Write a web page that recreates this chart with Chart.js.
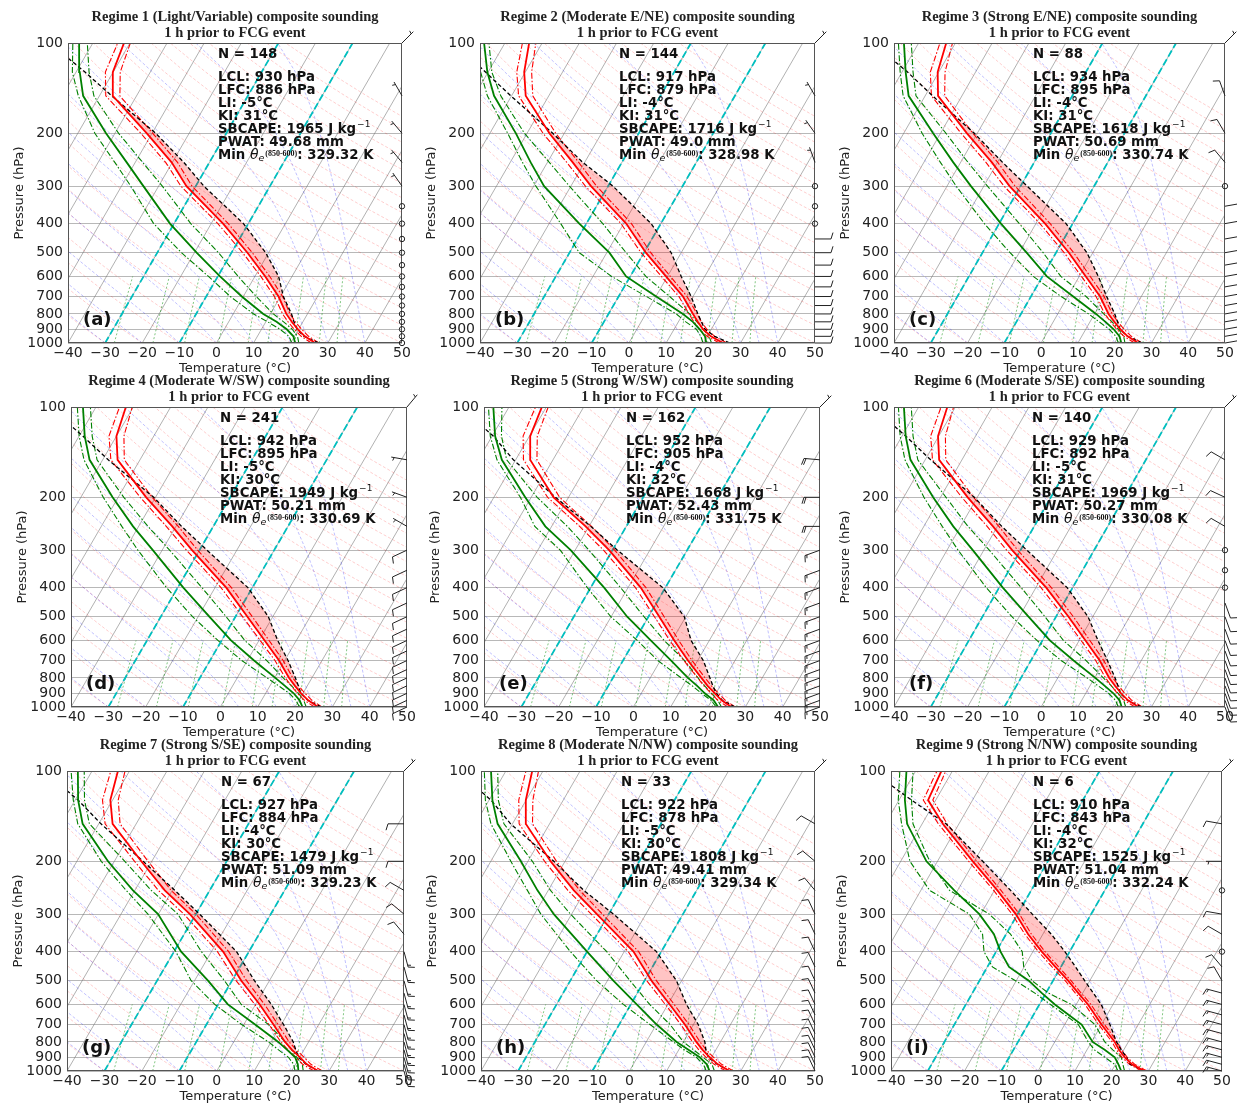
<!DOCTYPE html>
<html lang="en">
<head>
<meta charset="UTF-8"/>
<title>Composite soundings 1 h prior to FCG events</title>
<script src="https://cdn.jsdelivr.net/npm/chart.js@4.4.1/dist/chart.umd.min.js"></script>
<style>
  html, body { margin: 0; padding: 0; background: #fff; overflow: hidden; }
  #page { position: relative; width: 1237px; height: 1105px; overflow: hidden; background: #fff; }
  #page canvas { position: absolute; }
</style>
</head>
<body>
<div id="page"></div>
<script>
// pressure levels (hPa) the composite profiles are read at
const levels = [1000, 950, 900, 850, 800, 700, 600, 500, 400, 300, 250, 200, 150, 125, 100];
const levelsI = [1000, 950, 900, 850, 800, 700, 600, 550, 500, 450, 400, 350, 300, 250, 200, 150, 125, 100];

// Regime 1
const tempA   = [26.6, 22.8, 19.8, 17.0, 14.3, 9.5, 2.8, -5.7, -16.8, -32.5, -40.2, -51.4, -66.4, -70.1, -71.6];
const tempSdA = [1.0, 1.0, 1.0, 1.0, 1.0, 1.1, 1.2, 1.3, 1.4, 1.5, 1.6, 1.6, 1.9, 2.0, 1.7];
const dewA    = [21.2, 19.7, 16.8, 12.9, 8.1, -0.4, -9.4, -19.4, -31.1, -44.1, -52.3, -62.4, -74.4, -79.0, -83.7];
const dewLoA  = [20.3, 18.5, 15.0, 10.5, 5.5, -3.5, -12.5, -23.5, -35.5, -47.5, -55.5, -65.4, -75.7, -81.0, -85.4];
const dewHiA  = [22.2, 20.8, 18.3, 14.8, 10.8, 3.5, -4.5, -13.5, -25.5, -39.0, -48.0, -59.0, -71.5, -76.5, -81.5];
const parcelA = [27.6, 22.5, 19.6, 17.6, 15.7, 10.8, 6.4, -0.8, -11.3, -27.8, -36.9, -49.0, -66.7, -77.6, -91.6];

// Regime 2
const tempB   = [25.3, 21.0, 17.8, 15.2, 12.7, 7.3, -0.4, -9.5, -19.3, -34.6, -43.2, -54.0, -66.2, -70.3, -73.5];
const tempSdB = [1.0, 1.0, 1.0, 1.0, 1.1, 1.1, 1.2, 1.3, 1.4, 1.5, 1.6, 1.7, 1.9, 2.0, 1.8];
const dewB    = [20.8, 19.4, 16.9, 13.9, 10.0, 0.1, -11.1, -19.3, -31.9, -47.2, -54.5, -63.0, -74.7, -80.2, -85.6];
const dewLoB  = [19.9, 18.3, 16.0, 12.0, 8.2, -2.5, -15.0, -27.4, -36.9, -49.4, -56.7, -65.2, -76.5, -82.0, -87.0];
const dewHiB  = [22.2, 20.5, 17.8, 15.0, 11.8, 3.7, -5.8, -14.8, -25.6, -40.4, -49.5, -60.7, -72.9, -79.0, -84.3];
const parcelB = [27.1, 22.0, 18.3, 16.2, 14.0, 9.5, 3.7, -2.7, -12.6, -28.7, -40.5, -53.1, -70.2, -80.7, -93.4];

// Regime 3
const tempC   = [26.4, 22.5, 19.4, 16.6, 13.8, 8.8, 1.8, -6.5, -17.5, -33.0, -41.5, -52.8, -66.5, -70.3, -72.5];
const tempSdC = [1.0, 1.0, 1.0, 1.0, 1.0, 1.1, 1.2, 1.3, 1.4, 1.5, 1.6, 1.6, 1.8, 2.0, 1.7];
const dewC    = [21.8, 20.3, 17.6, 14.2, 10.4, 1.5, -8.8, -18.0, -29.5, -43.5, -52.0, -62.0, -74.5, -79.0, -84.0];
const dewLoC  = [21.0, 19.3, 16.4, 12.5, 8.4, -1.8, -12.5, -22.5, -34.0, -47.5, -55.5, -65.0, -76.0, -80.5, -85.5];
const dewHiC  = [22.8, 21.4, 18.9, 16.0, 12.5, 5.0, -5.0, -13.5, -24.5, -39.0, -48.0, -58.5, -72.5, -77.0, -82.0];
const parcelC = [27.5, 22.4, 19.3, 17.5, 15.5, 10.6, 5.2, -1.6, -11.8, -28.2, -38.6, -50.8, -68.0, -78.5, -92.5];

// Regime 4
const tempD   = [26.2, 22.5, 19.5, 16.7, 13.9, 8.5, 1.5, -6.8, -17.0, -32.0, -41.0, -52.5, -66.0, -70.0, -72.0];
const tempSdD = [1.0, 1.0, 1.0, 1.0, 1.0, 1.1, 1.2, 1.3, 1.4, 1.5, 1.6, 1.6, 1.8, 2.0, 1.7];
const dewD    = [22.0, 20.2, 17.5, 14.0, 10.2, 1.8, -7.5, -17.0, -28.5, -42.5, -51.5, -61.5, -73.5, -78.5, -83.5];
const dewLoD  = [21.2, 19.2, 16.3, 12.3, 8.0, -1.5, -11.0, -21.5, -33.0, -46.5, -54.5, -64.0, -75.0, -80.0, -85.0];
const dewHiD  = [23.0, 21.3, 18.8, 15.8, 12.3, 5.2, -3.8, -12.5, -23.5, -38.0, -47.5, -58.5, -71.5, -76.5, -81.5];
const parcelD = [27.0, 22.4, 19.4, 17.6, 15.6, 10.9, 5.0, -1.2, -11.2, -28.0, -38.5, -50.5, -68.5, -79.0, -92.5];

// Regime 5
const tempE   = [26.3, 22.6, 19.7, 16.6, 13.7, 7.4, 0.6, -7.1, -16.6, -30.9, -40.9, -54.0, -66.1, -69.8, -71.2];
const tempSdE = [1.0, 1.0, 1.0, 1.0, 1.0, 1.1, 1.2, 1.3, 1.4, 1.5, 1.6, 1.6, 1.8, 1.9, 1.7];
const dewE    = [22.7, 20.5, 17.0, 13.8, 10.1, 2.9, -5.7, -15.7, -26.4, -41.2, -51.7, -61.6, -73.7, -79.2, -84.2];
const dewLoE  = [22.2, 19.8, 16.1, 12.5, 8.3, -0.7, -9.3, -20.1, -30.9, -44.0, -54.5, -62.9, -75.0, -80.5, -85.5];
const dewHiE  = [23.6, 21.6, 18.8, 15.8, 12.8, 6.5, -2.1, -11.2, -22.0, -36.3, -45.8, -58.4, -72.4, -77.5, -81.9];
const parcelE = [27.2, 22.8, 20.1, 18.0, 16.0, 11.5, 5.1, -0.4, -10.7, -28.7, -39.5, -53.5, -70.6, -79.7, -93.0];

// Regime 6
const tempF   = [26.5, 22.6, 19.6, 16.8, 14.0, 8.7, 1.7, -6.6, -17.2, -32.3, -41.2, -52.6, -66.2, -70.2, -72.2];
const tempSdF = [1.0, 1.0, 1.0, 1.0, 1.0, 1.1, 1.2, 1.3, 1.4, 1.5, 1.6, 1.6, 1.8, 2.0, 1.7];
const dewF    = [21.9, 20.3, 17.5, 14.0, 10.2, 1.6, -8.0, -17.5, -29.0, -43.0, -52.0, -62.0, -74.0, -79.0, -84.0];
const dewLoF  = [21.0, 19.2, 16.2, 12.2, 8.0, -1.8, -11.5, -22.0, -33.5, -47.0, -55.0, -64.5, -75.5, -80.5, -85.5];
const dewHiF  = [23.0, 21.4, 18.8, 15.8, 12.4, 5.0, -4.3, -13.0, -24.0, -38.5, -48.0, -58.5, -72.0, -77.0, -82.0];
const parcelF = [27.3, 22.4, 19.4, 17.6, 15.6, 10.8, 5.1, -1.3, -11.5, -28.3, -38.8, -50.8, -68.5, -79.0, -92.5];

// Regime 7
const tempG   = [27.1, 23.0, 20.1, 16.8, 13.7, 7.9, 1.1, -7.5, -16.9, -31.6, -42.0, -52.8, -66.3, -70.6, -73.1];
const tempSdG = [1.1, 1.1, 1.1, 1.1, 1.1, 1.2, 1.3, 1.4, 1.5, 1.6, 1.7, 1.8, 2.0, 2.1, 1.9];
const dewG    = [21.8, 20.6, 18.8, 15.5, 11.9, 3.0, -7.4, -16.4, -28.1, -40.1, -50.5, -61.7, -74.3, -79.2, -83.8];
const dewLoG  = [20.9, 19.5, 17.0, 13.2, 9.3, -0.6, -10.9, -20.9, -29.5, -42.8, -52.3, -63.5, -75.6, -80.5, -85.6];
const dewHiG  = [23.1, 21.8, 19.2, 16.7, 13.7, 6.6, -3.8, -12.0, -22.7, -34.8, -45.6, -57.2, -72.5, -77.5, -82.1];
const parcelG = [27.0, 22.8, 19.7, 17.8, 15.9, 10.6, 4.2, -4.0, -13.3, -29.0, -39.3, -52.3, -69.4, -79.2, -93.0];

// Regime 8
const tempH   = [27.0, 22.8, 19.5, 16.4, 13.5, 7.7, 0.5, -8.1, -17.5, -33.2, -43.1, -53.9, -66.4, -70.1, -72.9];
const tempSdH = [1.0, 1.0, 1.0, 1.0, 1.0, 1.1, 1.2, 1.3, 1.4, 1.5, 1.6, 1.6, 1.8, 1.9, 1.7];
const dewH    = [21.6, 19.8, 16.8, 12.6, 8.2, 0.1, -8.4, -18.4, -30.0, -44.8, -52.9, -61.9, -74.0, -79.1, -84.0];
const dewLoH  = [20.7, 18.9, 15.9, 11.5, 7.3, -1.7, -12.0, -22.9, -34.5, -48.3, -55.6, -64.6, -75.8, -81.0, -85.8];
const dewHiH  = [22.9, 21.2, 17.7, 14.0, 10.0, 3.7, -4.9, -13.9, -24.7, -40.3, -49.4, -58.8, -72.3, -77.5, -82.2];
const parcelH = [27.0, 22.6, 19.1, 17.3, 15.8, 11.3, 5.0, -1.4, -11.3, -28.7, -40.4, -53.0, -70.5, -79.5, -93.0];

// Regime 9 (more levels, the profile has more structure)
const tempI   = [28.9, 24.5, 21.4, 18.7, 16.3, 10.0, 3.2, -1.2, -5.9, -11.5, -17.6, -24.0, -30.5, -39.2, -50.4, -64.4, -72.1, -73.0];
const tempSdI = [0.7, 0.7, 0.7, 0.7, 0.7, 0.8, 0.8, 0.8, 0.8, 0.9, 0.9, 0.9, 1.0, 1.0, 1.1, 1.2, 1.3, 1.2];
const dewI    = [22.6, 20.8, 18.7, 14.8, 10.3, 4.6, -5.8, -11.1, -16.6, -24.1, -28.8, -33.3, -40.4, -50.9, -63.0, -74.1, -78.4, -82.5];
const dewLoI  = [21.7, 19.8, 16.0, 12.0, 9.1, 3.7, -7.0, -13.0, -20.2, -28.6, -33.3, -36.4, -43.1, -57.6, -67.5, -75.6, -80.2, -84.3];
const dewHiI  = [23.5, 22.0, 20.5, 17.0, 13.6, 8.2, -1.3, -9.3, -15.7, -20.1, -22.9, -28.8, -37.7, -52.2, -62.1, -72.5, -76.6, -80.7];
const parcelI = [28.9, 24.0, 21.9, 19.3, 16.8, 12.3, 6.8, 2.9, -1.4, -6.0, -11.3, -17.7, -26.0, -35.6, -47.7, -63.5, -76.6, -92.0];

// sounding statistics
const regimes = ['Regime 1 (Light/Variable)', 'Regime 2 (Moderate E/NE)', 'Regime 3 (Strong E/NE)',
                 'Regime 4 (Moderate W/SW)', 'Regime 5 (Strong W/SW)', 'Regime 6 (Moderate S/SE)',
                 'Regime 7 (Strong S/SE)', 'Regime 8 (Moderate N/NW)', 'Regime 9 (Strong N/NW)'];
const counts = [148, 144, 88, 241, 162, 140, 67, 33, 6];
const lcl = [930, 917, 934, 942, 952, 929, 927, 922, 910];
const lfc = [886, 879, 895, 895, 905, 892, 884, 878, 843];
const liIdx = [-5, -4, -4, -5, -4, -5, -4, -5, -4];
const kiIdx = [31, 31, 31, 30, 32, 31, 30, 30, 32];
const sbcape = [1965, 1716, 1618, 1949, 1668, 1969, 1479, 1808, 1525];
const pwat = ['49.68', '49.0', '50.69', '50.21', '52.43', '50.27', '51.09', '49.41', '51.04'];
const minThetaE = ['329.32', '328.98', '330.74', '330.69', '331.75', '330.08', '329.23', '329.34', '332.24'];

// winds (kt, direction from) every 50 hPa, 100 .. 1000
const windLevels = [100, 150, 200, 250, 300, 350, 400, 450, 500, 550, 600, 650, 700, 750, 800, 850, 900, 950, 1000];
const windSpdA = [5, 5, 5, 5, 5, 0, 0, 0, 0, 0, 0, 0, 0, 0, 0, 0, 0, 0, 0];
const windDirA = [45, 330, 320, 320, 325, 0, 0, 0, 0, 0, 0, 0, 0, 0, 0, 0, 0, 0, 0];
const windSpdB = [5, 5, 5, 5, 0, 0, 0, 10, 10, 10, 10, 10, 10, 10, 10, 10, 10, 10, 10];
const windDirB = [45, 330, 325, 340, 0, 0, 0, 90, 90, 90, 90, 90, 90, 90, 90, 90, 90, 90, 90];
const windSpdC = [5, 10, 10, 10, 0, 15, 15, 15, 15, 15, 15, 15, 15, 15, 15, 15, 15, 15, 15];
const windDirC = [45, 340, 330, 320, 0, 80, 80, 80, 80, 80, 80, 80, 80, 80, 80, 80, 80, 80, 80];
const windSpdD = [5, 5, 5, 5, 10, 10, 10, 10, 10, 10, 10, 10, 10, 10, 10, 10, 10, 10, 10];
const windDirD = [40, 280, 290, 300, 245, 245, 245, 245, 245, 245, 245, 245, 245, 245, 245, 245, 245, 245, 245];
const windSpdE = [5, 20, 20, 20, 15, 15, 15, 15, 15, 15, 15, 15, 15, 15, 15, 15, 15, 15, 15];
const windDirE = [45, 275, 270, 270, 250, 250, 250, 250, 250, 250, 250, 250, 250, 250, 250, 250, 250, 250, 250];
const windSpdF = [5, 10, 10, 10, 0, 0, 0, 10, 10, 10, 10, 10, 10, 10, 10, 10, 10, 10, 10];
const windDirF = [45, 300, 295, 300, 0, 0, 0, 160, 160, 160, 160, 160, 160, 160, 160, 160, 160, 160, 160];
const windSpdG = [5, 10, 10, 10, 10, 10, 15, 15, 15, 15, 15, 15, 15, 15, 15, 15, 15, 15, 15];
const windDirG = [45, 270, 270, 300, 310, 320, 165, 165, 165, 165, 165, 165, 165, 165, 165, 165, 165, 165, 165];
const windSpdH = [5, 10, 10, 10, 10, 10, 10, 10, 10, 10, 10, 10, 10, 10, 10, 10, 10, 10, 10];
const windDirH = [45, 300, 310, 320, 335, 335, 335, 335, 335, 335, 335, 335, 335, 335, 335, 335, 335, 335, 335];
const windSpdI = [5, 10, 5, 0, 10, 10, 0, 10, 10, 15, 15, 15, 15, 15, 15, 15, 15, 15, 15];
const windDirI = [45, 280, 270, 0, 280, 300, 0, 320, 330, 285, 285, 285, 285, 285, 285, 285, 285, 285, 285];

// skew-T background reference lines
const pressureTicks = [100, 200, 300, 400, 500, 600, 700, 800, 900, 1000];
const isotherms = [-90, -80, -70, -60, -50, -40, -30, -20, -10, 0, 10, 20, 30, 40, 50];
const cyanIsotherms = [-30, -10];
const dryT0 = [-30, -20, -10, 0, 10, 20, 30, 40, 50, 60, 70, 80, 90, 100, 110, 120, 130, 140, 150, 160, 170, 180, 190, 200];
const moistT0 = [-50, -40, -30, -20, -10, 0, 5, 10, 15, 20, 25, 30, 35, 40];
const mixRatios = [0.0004, 0.001, 0.002, 0.004, 0.007, 0.01, 0.016, 0.024, 0.032];
const refLevels = [1000, 950, 900, 850, 800, 750, 700, 650, 600, 550, 500, 450, 400, 350, 300, 250, 200, 175, 150, 125, 100];
const mixLevels = [1000, 900, 800, 700, 600];

// where each panel's plot box sits on the page
const panelLayout = [
  { left: 68,  top: 43,  width: 334, textX: 150 },
  { left: 480, top: 43,  width: 335, textX: 139 },
  { left: 894, top: 43,  width: 331, textX: 139 },
  { left: 71,  top: 407, width: 336, textX: 149 },
  { left: 484, top: 407, width: 336, textX: 142 },
  { left: 894, top: 407, width: 331, textX: 138 },
  { left: 67,  top: 771, width: 337, textX: 154 },
  { left: 481, top: 771, width: 334, textX: 140 },
  { left: 891, top: 771, width: 331, textX: 142 }
];

const panels = [
  { p: levels,  t: tempA, sd: tempSdA, td: dewA, lo: dewLoA, hi: dewHiA, pc: parcelA, ws: windSpdA, wd: windDirA },
  { p: levels,  t: tempB, sd: tempSdB, td: dewB, lo: dewLoB, hi: dewHiB, pc: parcelB, ws: windSpdB, wd: windDirB },
  { p: levels,  t: tempC, sd: tempSdC, td: dewC, lo: dewLoC, hi: dewHiC, pc: parcelC, ws: windSpdC, wd: windDirC },
  { p: levels,  t: tempD, sd: tempSdD, td: dewD, lo: dewLoD, hi: dewHiD, pc: parcelD, ws: windSpdD, wd: windDirD },
  { p: levels,  t: tempE, sd: tempSdE, td: dewE, lo: dewLoE, hi: dewHiE, pc: parcelE, ws: windSpdE, wd: windDirE },
  { p: levels,  t: tempF, sd: tempSdF, td: dewF, lo: dewLoF, hi: dewHiF, pc: parcelF, ws: windSpdF, wd: windDirF },
  { p: levels,  t: tempG, sd: tempSdG, td: dewG, lo: dewLoG, hi: dewHiG, pc: parcelG, ws: windSpdG, wd: windDirG },
  { p: levels,  t: tempH, sd: tempSdH, td: dewH, lo: dewLoH, hi: dewHiH, pc: parcelH, ws: windSpdH, wd: windDirH },
  { p: levelsI, t: tempI, sd: tempSdI, td: dewI, lo: dewLoI, hi: dewHiI, pc: parcelI, ws: windSpdI, wd: windDirI }
];

const SKEW = 46.7; // deg C shift per decade of pressure (30 deg isotherm tilt)
const DASHDOT = [6, 2, 1.5, 2];
const skewX = (t, p) => t + SKEW * Math.log10(1000 / p);
const pts = (temps, ps) => temps.map((t, i) => ({ x: skewX(t, ps[i]), y: ps[i] }));

function line(data, color, width, dash, order) {
  return { data, borderColor: color, borderWidth: width, borderDash: dash, pointRadius: 0,
           showLine: true, fill: false, tension: 0, order };
}

// moist adiabat, integrated from 1000 hPa
function satMix(p, tk) {
  const es = 6.112 * Math.exp(17.67 * (tk - 273.15) / (tk - 29.65));
  return 0.622 * es / (p - es);
}
function moistLapse(p, tk) {
  const rs = satMix(p, tk);
  return (287.04 * tk + 2.501e6 * rs) / (1005.7 + 2.501e6 * 2.501e6 * rs * 0.622 / (287.04 * tk * tk)) / p;
}
function moistAdiabat(t0) {
  let tk = t0 + 273.15, p = 1000;
  const out = [{ x: skewX(t0, 1000), y: 1000 }];
  for (let i = 1; i < refLevels.length; i++) {
    const n = 6, h = (refLevels[i] - p) / n;
    for (let k = 0; k < n; k++) {
      const k1 = moistLapse(p, tk);
      const k2 = moistLapse(p + h / 2, tk + h / 2 * k1);
      const k3 = moistLapse(p + h / 2, tk + h / 2 * k2);
      const k4 = moistLapse(p + h, tk + h * k3);
      tk += h / 6 * (k1 + 2 * k2 + 2 * k3 + k4);
      p += h;
    }
    out.push({ x: skewX(tk - 273.15, refLevels[i]), y: refLevels[i] });
  }
  return out;
}
const dryAdiabat = t0 => refLevels.map(p => ({ x: skewX((t0 + 273.15) * Math.pow(p / 1000, 0.2857) - 273.15, p), y: p }));
const mixLine = w => mixLevels.map(p => {
  const l = Math.log(w * p / (0.622 + w) / 6.112);
  return { x: skewX(243.5 * l / (17.67 - l), p), y: p };
});

// CAPE area: parcel above environment, from the LFC up to where they cross
function capeShape(ps, t, pc, pLfc) {
  const rows = [];
  for (let i = 0; i < ps.length - 1; i++) {
    if (ps[i] >= pLfc && ps[i + 1] < pLfc) {
      const f = Math.log(pLfc / ps[i]) / Math.log(ps[i + 1] / ps[i]);
      rows.push({ p: pLfc, t: t[i] + f * (t[i + 1] - t[i]), c: pc[i] + f * (pc[i + 1] - pc[i]) });
    }
    if (ps[i + 1] < pLfc) rows.push({ p: ps[i + 1], t: t[i + 1], c: pc[i + 1] });
  }
  const out = [rows[0]];
  for (let k = 1; k < rows.length; k++) {
    const a = rows[k - 1], b = rows[k];
    if (b.c >= b.t) { out.push(b); continue; }
    const da = a.c - a.t, db = b.c - b.t, f = da / (da - db);
    out.push({ p: Math.exp(Math.log(a.p) + f * (Math.log(b.p) - Math.log(a.p))),
               t: a.t + f * (b.t - a.t), c: a.c + f * (b.c - a.c) });
    break;
  }
  const up = out.map(q => ({ x: skewX(q.c, q.p), y: q.p }));
  const down = out.slice().reverse().map(q => ({ x: skewX(q.t, q.p), y: q.p }));
  return up.concat(down);
}

function drawBarb(ctx, x, y, spd, dir) {
  const L = 16, sp = L * 0.125, fh = L * 0.4, fw = L * 0.25;
  const r = Math.round(spd / 5) * 5;
  if (r === 0) {
    ctx.beginPath(); ctx.arc(x, y, 2.7, 0, Math.PI * 2); ctx.stroke();
    return;
  }
  const a = dir * Math.PI / 180;
  const ox = Math.sin(a), oy = -Math.cos(a); // toward where the wind comes from
  const rx = oy, ry = -ox;                     // feather side
  const at = s => [x + ox * s, y + oy * s];
  ctx.beginPath();
  ctx.moveTo(x, y); ctx.lineTo(...at(L));
  let flags = Math.floor(r / 50), full = Math.floor((r % 50) / 10), half = r % 10 >= 5;
  let off = L;
  for (let k = 0; k < flags; k++) {
    const [bx, by] = at(off), [cx, cy] = at(off - fw / 2), [dx, dy] = at(off - fw);
    ctx.moveTo(bx, by); ctx.lineTo(cx + rx * fh, cy + ry * fh); ctx.lineTo(dx, dy);
    off -= fw + sp;
  }
  for (let k = 0; k < full; k++) {
    const [bx, by] = at(off), [cx, cy] = at(off + fw / 2);
    ctx.moveTo(bx, by); ctx.lineTo(cx + rx * fh, cy + ry * fh);
    off -= sp;
  }
  if (half) {
    if (off === L) off -= 1.5 * sp;
    const [bx, by] = at(off), [cx, cy] = at(off + fw / 4);
    ctx.moveTo(bx, by); ctx.lineTo(cx + rx * fh / 2, cy + ry * fh / 2);
  }
  ctx.stroke();
}

const soundingPlugin = {
  id: 'sounding',
  afterDatasetsDraw(chart) {
    const { ctx, chartArea: ca } = chart;
    ctx.save();
    ctx.strokeStyle = '#555'; ctx.lineWidth = 1;
    ctx.strokeRect(ca.left + 0.5, ca.top + 0.5, ca.width - 1, ca.height - 1);
    ctx.restore();
  },
  afterDraw(chart, args, opts) {
    const { ctx, chartArea: ca, scales } = chart;
    const i = opts.idx, pn = panels[i];
    ctx.save();
    // wind barbs on the right spine
    ctx.strokeStyle = '#222'; ctx.fillStyle = '#222'; ctx.lineWidth = 1;
    windLevels.forEach((p, k) => drawBarb(ctx, ca.right, scales.y.getPixelForValue(p), pn.ws[k], pn.wd[k]));
    // statistics block
    const x = ca.left + panelLayout[i].textX;
    const B = 'bold 13.3px "DejaVu Sans"';
    ctx.fillStyle = '#111'; ctx.textBaseline = 'middle'; ctx.textAlign = 'left';
    ctx.font = B;
    ctx.fillText('N = ' + counts[i], x, ca.top + 12);
    let y = ca.top + 34.7;
    [`LCL: ${lcl[i]} hPa`, `LFC: ${lfc[i]} hPa`, `LI: ${liIdx[i]}°C`, `KI: ${kiIdx[i]}°C`].forEach(s => {
      ctx.fillText(s, x, y); y += 12.9;
    });
    let s = `SBCAPE: ${sbcape[i]} J kg`;
    ctx.fillText(s, x, y);
    let w = ctx.measureText(s).width;
    ctx.font = '9px "DejaVu Sans"';
    ctx.fillText('\u22121', x + w + 1, y - 5);
    y += 12.9;
    ctx.font = B; ctx.fillText(`PWAT: ${pwat[i]} mm`, x, y);
    y += 12.9;
    ctx.fillText('Min ', x, y); w = ctx.measureText('Min ').width;
    ctx.font = 'italic 14px "DejaVu Sans"'; ctx.fillText('θ', x + w, y); w += ctx.measureText('θ').width;
    ctx.font = 'italic 9.5px "DejaVu Sans"'; ctx.fillText('e', x + w, y + 3); w += ctx.measureText('e').width + 1;
    ctx.font = 'bold 8px "Liberation Serif"'; ctx.fillText('(850-600)', x + w, y - 1); w += ctx.measureText('(850-600)').width;
    ctx.font = B; ctx.fillText(`: ${minThetaE[i]} K`, x + w, y);
    // panel letter
    ctx.font = 'bold 18px "DejaVu Sans"';
    ctx.fillText('(' + 'abcdefghi'[i] + ')', ca.left + 15, ca.bottom - 23);
    ctx.restore();
  }
};

Chart.defaults.font.family = '"DejaVu Sans", sans-serif';
Chart.defaults.color = '#222';

const page = document.getElementById('page');

panels.forEach((pn, i) => {
  const lay = panelLayout[i];
  const canvas = document.createElement('canvas');
  canvas.width = 68 + lay.width + 24;
  canvas.height = 380;
  canvas.style.left = (lay.left - 68) + 'px';
  canvas.style.top = (lay.top - 43) + 'px';
  page.appendChild(canvas);

  const ds = [];
  ds.push(line(pts(pn.t, pn.p), '#ff0000', 1.8, [], 0));
  ds.push(line(pts(pn.td, pn.p), '#008000', 1.8, [], 0));
  ds.push(line(pts(pn.pc, pn.p), '#000000', 1.3, [4, 2.5], 0));
  ds.push(line(pts(pn.t.map((t, k) => t - pn.sd[k]), pn.p), '#ff0000', 1.1, DASHDOT, 1));
  ds.push(line(pts(pn.t.map((t, k) => t + pn.sd[k]), pn.p), '#ff0000', 1.1, DASHDOT, 1));
  ds.push(line(pts(pn.lo, pn.p), '#008000', 1.1, DASHDOT, 1));
  ds.push(line(pts(pn.hi, pn.p), '#008000', 1.1, DASHDOT, 1));
  const cape = line(capeShape(pn.p, pn.t, pn.pc, lfc[i]), 'rgba(0,0,0,0)', 0, [], 3);
  cape.fill = 'shape'; cape.backgroundColor = 'rgba(255,0,0,0.23)';
  ds.push(cape);
  cyanIsotherms.forEach(t => ds.push(line([{ x: t, y: 1000 }, { x: t + SKEW, y: 100 }], '#00bfbf', 1.8, [7, 3], 4)));
  mixRatios.forEach(w => ds.push(line(mixLine(w), 'rgba(0,140,0,0.55)', 0.9, [2, 2], 6)));
  moistT0.forEach(t => ds.push(line(moistAdiabat(t), 'rgba(0,0,255,0.28)', 0.9, [3, 2], 7)));
  dryT0.forEach(t => ds.push(line(dryAdiabat(t), 'rgba(255,0,0,0.22)', 0.9, [3, 2], 7)));
  isotherms.forEach(t => ds.push(line([{ x: t, y: 1000 }, { x: t + SKEW, y: 100 }], 'rgba(110,110,110,0.6)', 0.9, [], 8)));

  new Chart(canvas, {
    type: 'scatter',
    data: { datasets: ds },
    options: {
      responsive: false,
      devicePixelRatio: 1,
      animation: false,
      events: [],
      layout: { padding: { left: 0, right: canvas.width - 68 - lay.width, top: 0, bottom: 0 } },
      plugins: {
        legend: { display: false },
        tooltip: { enabled: false },
        title: {
          display: true, fullSize: false,
          text: [regimes[i] + ' composite sounding', '1 h prior to FCG event'],
          font: { family: '"Liberation Serif", serif', weight: 'bold', size: 14.5, lineHeight: 16 / 14.5 },
          padding: { top: 9, bottom: 2 }, color: '#222'
        },
        sounding: { idx: i }
      },
      scales: {
        x: {
          type: 'linear', min: -40, max: 50,
          ticks: { stepSize: 10, maxRotation: 0, padding: 2, font: { size: 14 },
                   callback: v => String(v).replace('-', '\u2212') },
          grid: { display: false, drawTicks: false }, border: { display: false },
          title: { display: true, text: 'Temperature (°C)', font: { size: 13 }, padding: { top: 0, bottom: 4 } },
          afterFit: s => { s.height = 37; }
        },
        y: {
          type: 'logarithmic', reverse: true, min: 100, max: 1000,
          afterBuildTicks: s => { s.ticks = pressureTicks.map(v => ({ value: v })); },
          ticks: { padding: 5, font: { size: 14 }, callback: v => String(v) },
          grid: { color: '#b8b8b8', lineWidth: 1, drawTicks: false }, border: { display: false },
          title: { display: true, text: 'Pressure (hPa)', font: { size: 13 }, padding: { top: 12, bottom: 0 } },
          afterFit: s => { s.width = 68; }
        }
      }
    },
    plugins: [soundingPlugin]
  });
});
</script>
</body>
</html>
